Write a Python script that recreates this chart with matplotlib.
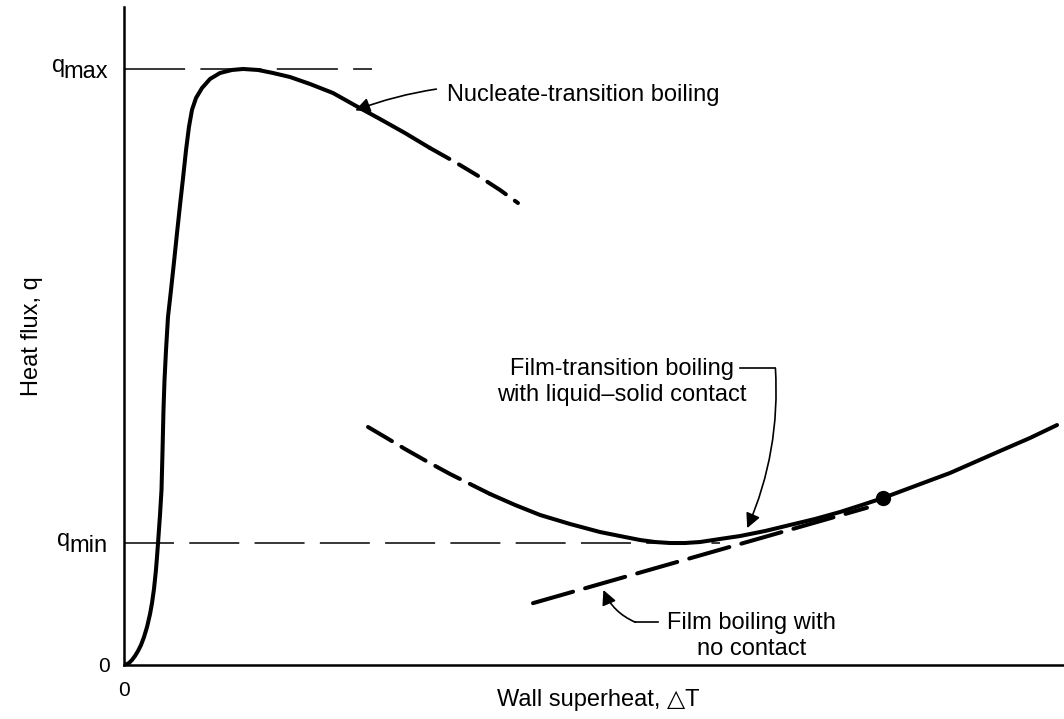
import matplotlib.pyplot as plt
import numpy as np

plt.rcParams['font.family'] = ['Liberation Sans', 'DejaVu Sans']
plt.rcParams['lines.scale_dashes'] = False

# boiling curve, arbitrary units (wall superheat 0-100, heat flux 0-100)
nuc_x = [0, 0.21, 0.53, 0.85, 1.17, 1.49, 1.81, 2.13, 2.45, 2.77, 2.98, 3.19,
         3.40, 3.51, 3.62, 3.83, 3.99, 4.10, 4.20, 4.31, 4.47, 4.68, 5.00,
         5.32, 5.64, 5.96, 6.28, 6.60, 6.91, 7.23, 7.66, 8.30, 9.15, 10.21,
         11.49, 12.66, 14.26, 15.85, 17.66, 19.79, 22.23, 24.89, 27.23,
         29.89, 32.55]
nuc_y = [0, 0.08, 0.30, 0.76, 1.37, 2.13, 3.04, 4.26, 5.78, 7.75, 9.42, 11.55,
         14.44, 16.41, 18.54, 22.80, 26.60, 32.67, 38.75, 43.31, 47.87, 52.89,
         56.99, 61.25, 65.65, 69.91, 74.01, 78.27, 81.76, 84.35, 86.17, 87.69,
         89.06, 89.97, 90.43, 90.58, 90.43, 89.97, 89.36, 88.30, 86.93, 84.80,
         82.98, 80.85, 78.57]
nuc_ext_x = [32.55, 35.21, 37.87, 40.00, 41.91]
nuc_ext_y = [78.57, 76.44, 74.16, 72.19, 70.21]

film_ext_x = [25.96, 27.77, 29.89, 32.34, 34.68, 36.81, 38.94]
film_ext_y = [36.17, 34.65, 32.83, 30.85, 29.03, 27.51, 25.99]
film_x = [38.94, 41.60, 44.26, 47.45, 50.64, 52.77, 54.89, 56.49, 58.09, 59.68,
          61.28, 63.40, 65.53, 68.19, 70.85, 73.51, 76.17, 78.51, 80.74,
          84.15, 87.87, 90.53, 93.19, 96.38, 99.26]
film_y = [25.99, 24.32, 22.80, 21.43, 20.21, 19.60, 19.00, 18.69, 18.54, 18.54,
          18.69, 19.15, 19.60, 20.36, 21.28, 22.19, 23.25, 24.32, 25.38,
          27.20, 29.18, 30.85, 32.52, 34.50, 36.47]

nocontact_x = [43.51, 79.04]
nocontact_y = [9.4, 23.9]

rewet_x, rewet_y = 80.74, 25.38
q_max, q_min = 90.58, 18.54

fig = plt.figure(figsize=(10.64, 7.19), dpi=100)
ax = fig.add_axes([124 / 1064, 54 / 719, 940 / 1064, 658 / 719])
ax.set_xlim(0, 100)
ax.set_ylim(0, 100)

lw = 2.9
ax.plot(nuc_x, nuc_y, color='black', lw=lw, solid_capstyle='round',
        solid_joinstyle='round')
ax.plot(nuc_ext_x, nuc_ext_y, color='black', lw=lw, dashes=(16, 8),
        dash_capstyle='round')
ax.plot(film_ext_x, film_ext_y, color='black', lw=lw, dashes=(20, 8),
        dash_capstyle='round')
ax.plot(film_x, film_y, color='black', lw=lw, solid_capstyle='round',
        solid_joinstyle='round')
ax.plot(nocontact_x, nocontact_y, color='black', lw=lw, dashes=(30, 9),
        dash_capstyle='round')
ax.plot([rewet_x], [rewet_y], 'o', color='black', ms=10)

# q_max / q_min reference lines
ax.plot([0, 26.4], [q_max, q_max], color='black', lw=1.1, dashes=(44, 11))
ax.plot([0, 63.4], [q_min, q_min], color='black', lw=1.1, dashes=(36, 11))

fs = 17
arrow = dict(arrowstyle='-|>', color='black', lw=1.2, mutation_scale=22,
             shrinkA=0, shrinkB=0)

ax.annotate('Nucleate-transition boiling', xy=(24.6, 84.3), xytext=(34.4, 86.6),
            fontsize=fs, va='center', ha='left',
            arrowprops=dict(arrow, shrinkA=6, connectionstyle='arc3,rad=0.15'))

ax.text(53.0, 43.0, 'Film-transition boiling\nwith liquid\u2013solid contact',
        fontsize=fs, ha='center', va='center', linespacing=1.25)
ax.plot([65.5, 69.3], [45.1, 45.1], color='black', lw=1.2)
ax.annotate('', xy=(66.3, 20.8), xytext=(69.3, 45.1),
            arrowprops=dict(arrow, connectionstyle='arc3,rad=-0.12'))

ax.text(66.8, 4.4, 'Film boiling with\nno contact', fontsize=fs,
        ha='center', va='center', linespacing=1.2)
ax.plot([56.8, 54.4], [6.5, 6.5], color='black', lw=1.2)
ax.annotate('', xy=(51.0, 11.4), xytext=(54.4, 6.5),
            arrowprops=dict(arrow, connectionstyle='arc3,rad=-0.2'))

# axis ticks: only the origin, q_min and q_max
ax.set_xticks([0])
ax.set_xticklabels(['0'], fontsize=15)
ax.set_yticks([0])
ax.set_yticklabels(['0'], fontsize=15)
ax.tick_params(axis='x', length=0, pad=11.5)
ax.tick_params(axis='y', length=0, pad=10)

for val, sub, qoff in [(q_max, 'max', -59), (q_min, 'min', -54)]:
    ax.annotate(sub, xy=(0, val), xycoords=('axes fraction', 'data'),
                xytext=(-16, -9), textcoords='offset pixels',
                ha='right', va='baseline', fontsize=fs)
    ax.annotate('q', xy=(0, val), xycoords=('axes fraction', 'data'),
                xytext=(qoff, -3), textcoords='offset pixels',
                ha='right', va='baseline', fontsize=fs)

ax.set_xlabel('Wall superheat, \u25b3T', fontsize=fs)
ax.xaxis.set_label_coords(0.505, -0.036)
ax.set_ylabel('Heat flux, q', fontsize=fs)
ax.yaxis.set_label_coords(-0.086, 0.5)

for s in ['top', 'right']:
    ax.spines[s].set_visible(False)
for s in ['left', 'bottom']:
    ax.spines[s].set_linewidth(1.8)

fig.savefig('out.png', dpi=100)
